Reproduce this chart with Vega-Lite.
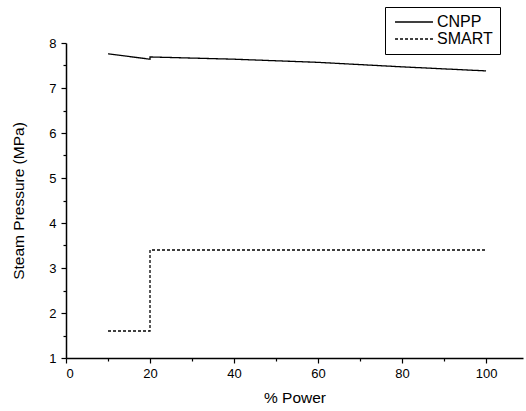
{
  "$schema": "https://vega.github.io/schema/vega-lite/v6.json",
  "autosize": "none",
  "width": 457,
  "height": 315,
  "padding": {"left": 66, "top": 43, "right": 3, "bottom": 53},
  "background": "white",
  "config": {
    "font": "Liberation Sans",
    "view": {"stroke": null},
    "axis": {"grid": false, "domainColor": "black", "tickColor": "black", "domainWidth": 1.5, "tickWidth": 1.2, "labelColor": "black", "titleColor": "black", "labelFont": "Liberation Sans", "titleFont": "Liberation Sans", "labelFontSize": 13, "titleFontSize": 15.5, "titleFontWeight": "normal"}
  },
  "data": {"values": [
    {"series": "CNPP", "i": 1, "power": 10, "pressure": 7.76},
    {"series": "CNPP", "i": 2, "power": 20, "pressure": 7.64},
    {"series": "CNPP", "i": 3, "power": 20, "pressure": 7.69},
    {"series": "CNPP", "i": 4, "power": 40, "pressure": 7.64},
    {"series": "CNPP", "i": 5, "power": 60, "pressure": 7.57},
    {"series": "CNPP", "i": 6, "power": 80, "pressure": 7.47},
    {"series": "CNPP", "i": 7, "power": 100, "pressure": 7.38},
    {"series": "SMART", "i": 1, "power": 10, "pressure": 1.6},
    {"series": "SMART", "i": 2, "power": 20, "pressure": 1.6},
    {"series": "SMART", "i": 3, "power": 20, "pressure": 3.4},
    {"series": "SMART", "i": 4, "power": 100, "pressure": 3.4}
  ]},
  "mark": {"type": "line", "strokeWidth": 1.3, "color": "black"},
  "encoding": {
    "x": {"field": "power", "type": "quantitative", "title": "% Power",
      "scale": {"domain": [0, 108.8], "nice": false, "zero": false},
      "axis": {"values": [0,10,20,30,40,50,60,70,80,90,100],
        "labelExpr": "datum.value % 20 === 0 ? format(datum.value, 'd') : ''",
        "tickSize": {"condition": {"test": "datum.value % 20 !== 0", "value": 3}, "value": 5},
        "labelPadding": 4, "titlePadding": 10}},
    "y": {"field": "pressure", "type": "quantitative", "title": "Steam Pressure (MPa)",
      "scale": {"domain": [1, 8], "nice": false, "zero": false},
      "axis": {"values": [1,1.5,2,2.5,3,3.5,4,4.5,5,5.5,6,6.5,7,7.5,8],
        "labelExpr": "datum.value % 1 === 0 ? format(datum.value, 'd') : ''",
        "tickSize": {"condition": {"test": "datum.value % 1 !== 0", "value": 3}, "value": 5},
        "labelPadding": 5, "titlePadding": 22}},
    "order": {"field": "i", "type": "quantitative"},
    "strokeDash": {"field": "series", "type": "nominal",
      "scale": {"domain": ["CNPP", "SMART"], "range": [[1, 0], [3, 2]]},
      "legend": {"title": null, "orient": "none", "legendX": 319, "legendY": -36,
        "symbolType": "M-4,0L4,0", "symbolSize": 90, "symbolStrokeWidth": 1.3, "symbolStrokeColor": "black", "symbolOffset": 14,
        "labelFontSize": 16, "labelFont": "Liberation Sans", "labelColor": "black", "labelOffset": 15,
        "padding": 7, "strokeColor": "black", "fillColor": "white", "rowPadding": 1}}
  }
}
